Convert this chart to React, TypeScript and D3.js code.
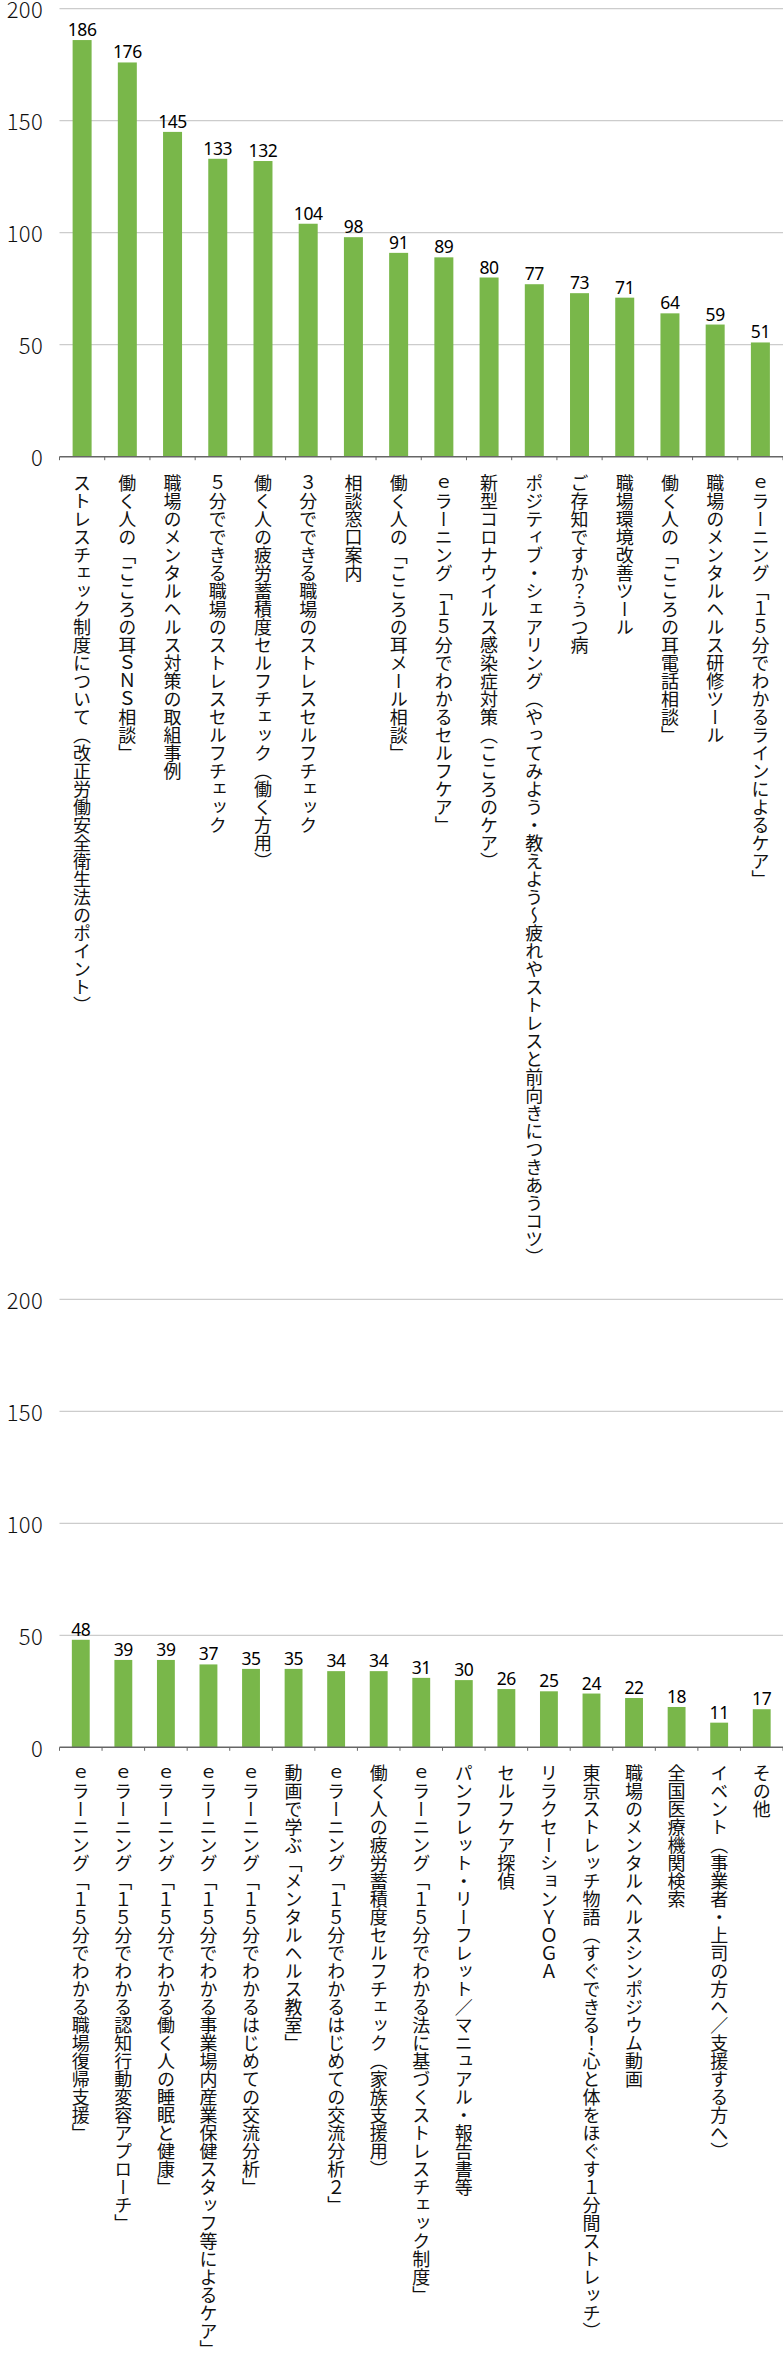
import React from "react";
import * as d3 from "d3";

const CATEGORIES_1 = [
  "ストレスチェック制度について（改正労働安全衛生法のポイント）",
  "働く人の「こころの耳ＳＮＳ相談」",
  "職場のメンタルヘルス対策の取組事例",
  "５分でできる職場のストレスセルフチェック",
  "働く人の疲労蓄積度セルフチェック（働く方用）",
  "３分でできる職場のストレスセルフチェック",
  "相談窓口案内",
  "働く人の「こころの耳メール相談」",
  "ｅラーニング「１５分でわかるセルフケア」",
  "新型コロナウイルス感染症対策（こころのケア）",
  "ポジティブ・シェアリング（やってみよう・教えよう～疲れやストレスと前向きにつきあうコツ）",
  "ご存知ですか？うつ病",
  "職場環境改善ツール",
  "働く人の「こころの耳電話相談」",
  "職場のメンタルヘルス研修ツール",
  "ｅラーニング「１５分でわかるラインによるケア」",
];
const VALUES_1 = [186, 176, 145, 133, 132, 104, 98, 91, 89, 80, 77, 73, 71, 64, 59, 51];

const CATEGORIES_2 = [
  "ｅラーニング「１５分でわかる職場復帰支援」",
  "ｅラーニング「１５分でわかる認知行動変容アプローチ」",
  "ｅラーニング「１５分でわかる働く人の睡眠と健康」",
  "ｅラーニング「１５分でわかる事業場内産業保健スタッフ等によるケア」",
  "ｅラーニング「１５分でわかるはじめての交流分析」",
  "動画で学ぶ「メンタルヘルス教室」",
  "ｅラーニング「１５分でわかるはじめての交流分析２」",
  "働く人の疲労蓄積度セルフチェック（家族支援用）",
  "ｅラーニング「１５分でわかる法に基づくストレスチェック制度」",
  "パンフレット・リーフレット／マニュアル・報告書等",
  "セルフケア探偵",
  "リラクセーションＹＯＧＡ",
  "東京ストレッチ物語（すぐできる！心と体をほぐす１分間ストレッチ）",
  "職場のメンタルヘルスシンポジウム動画",
  "全国医療機関検索",
  "イベント（事業者・上司の方へ／支援する方へ）",
  "その他",
];
const VALUES_2 = [48, 39, 39, 37, 35, 35, 34, 34, 31, 30, 26, 25, 24, 22, 18, 11, 17];

const Y_TICKS = [0, 50, 100, 150, 200];

const BAR_COLOR = "#79b74a";
const GRID_COLOR = "#cccccc";
const AXIS_COLOR = "#666666";
const CJK = "'Noto Sans CJK JP', 'Noto Sans', sans-serif";

function BarChart(props: {
  cats: string[];
  vals: number[];
  top: number;
  bottom: number;
}) {
  const { cats, vals, top, bottom } = props;
  const x = d3
    .scaleBand<string>()
    .domain(cats)
    .range([59.5, 783])
    .paddingInner(0.58)
    .paddingOuter(0.29);
  const step = x.step();
  const x0 = 59.5;
  const y = d3.scaleLinear().domain([0, 200]).range([bottom, top]);

  return (
    <g>
      {Y_TICKS.filter((t) => t > 0).map((t) => (
        <line
          key={"g" + t}
          x1={x0}
          x2={783}
          y1={y(t)}
          y2={y(t)}
          stroke={GRID_COLOR}
          strokeWidth={1.2}
        />
      ))}
      {Y_TICKS.map((t) => (
        <text
          key={"t" + t}
          x={43}
          y={y(t)}
          dy="0.44em"
          textAnchor="end"
          fontFamily={CJK}
          fontSize={22}
          fontWeight={300}
          letterSpacing={0.3}
          fill="#111"
        >
          {t}
        </text>
      ))}
      {cats.map((c, i) => (
        <rect
          key={"b" + i}
          x={x(c)}
          y={y(vals[i])}
          width={x.bandwidth()}
          height={y(0) - y(vals[i])}
          fill={BAR_COLOR}
        />
      ))}
      <line x1={x0} x2={783} y1={y(0)} y2={y(0)} stroke={AXIS_COLOR} strokeWidth={1.5} />
      {d3.range(cats.length + 1).map((i) => (
        <line
          key={"k" + i}
          x1={x0 + i * step}
          x2={x0 + i * step}
          y1={y(0)}
          y2={y(0) + 3.5}
          stroke={AXIS_COLOR}
          strokeWidth={1}
        />
      ))}
      {cats.map((c, i) => (
        <text
          key={"v" + i}
          x={(x(c) as number) + x.bandwidth() / 2}
          y={y(vals[i]) - 4}
          textAnchor="middle"
          fontFamily="'Noto Sans', sans-serif"
          fontSize={17.5}
          letterSpacing={-0.4}
          fill="#000"
        >
          {vals[i]}
        </text>
      ))}
      {cats.map((c, i) => (
        <text
          key={"c" + i}
          x={(x(c) as number) + x.bandwidth() / 2}
          y={y(0) + 17}
          fontFamily={CJK}
          fontSize={18}
          fill="#111"
          style={{ writingMode: "vertical-rl", textOrientation: "upright" } as any}
        >
          {c}
        </text>
      ))}
    </g>
  );
}

export default function App() {
  return (
    <div style={{ position: "absolute", left: 0, top: 0, width: 783, height: 2375, background: "#fff" }}>
      <svg width={783} height={2375} viewBox="0 0 783 2375" style={{ display: "block" }}>
        <rect width={783} height={2375} fill="#fff" />
        <BarChart cats={CATEGORIES_1} vals={VALUES_1} top={8.7} bottom={456.7} />
        <BarChart cats={CATEGORIES_2} vals={VALUES_2} top={1299.3} bottom={1747.3} />
      </svg>
    </div>
  );
}
